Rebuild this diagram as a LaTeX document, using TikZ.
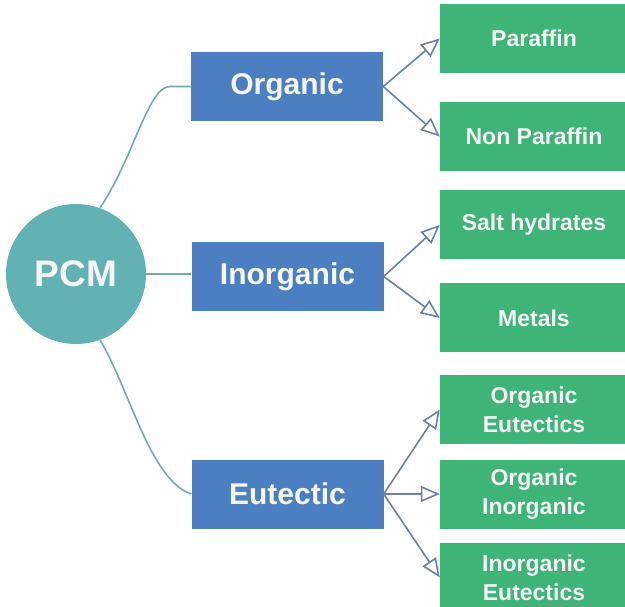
\documentclass[tikz,border=0pt]{standalone}
\usepackage{fontspec}
\setmainfont{Liberation Sans}
\usetikzlibrary{arrows.meta}
\definecolor{teal1}{HTML}{62B1B3}
\definecolor{tealline}{HTML}{74AAAA}
\definecolor{blue1}{HTML}{4C7EC2}
\definecolor{green1}{HTML}{3FB478}
\definecolor{arrowc}{HTML}{6C80A2}
\definecolor{txt}{HTML}{F4F6F6}
\tikzset{
  catbox/.style={rectangle, fill=blue1, draw=none, minimum width=192pt, minimum height=69pt, inner sep=0pt,
    text=txt, font=\bfseries\fontsize{30}{34}\selectfont, align=center},
  leafbox/.style={rectangle, fill=green1, draw=none, minimum width=188pt, minimum height=69pt, inner sep=0pt,
    text=txt, font=\bfseries\fontsize{23}{29}\selectfont, align=center},
  rootnode/.style={circle, fill=teal1, draw=none, minimum size=140pt, inner sep=0pt,
    text=txt, font=\bfseries\fontsize{37}{40}\selectfont},
  link/.style={draw=tealline, line width=1.6pt},
  branch/.style={draw=arrowc, line width=1.6pt, -{Triangle[open, length=19pt, width=16pt, fill=white]}}
}
\begin{document}
\begin{tikzpicture}[x=1pt, y=-1pt]
\useasboundingbox (0,0) rectangle (625,607);
\clip (0,0) rectangle (625,607);
\fill[white] (0,0) rectangle (625,607);
% root
\node[rootnode] (pcm) at (76,274) {PCM};
% categories
\node[catbox] (org) at (287,86.5) {Organic};
\node[catbox] (inorg) at (287.5,276.5) {Inorganic};
\node[catbox] (eut) at (287.5,494) {Eutectic};
% leaves
\node[leafbox] (par) at (534,38.5) {Paraffin};
\node[leafbox] (npar) at (534,136.5) {Non Paraffin};
\node[leafbox] (salt) at (534,225) {Salt hydrates};
\node[leafbox] (met) at (534,318) {Metals};
\node[leafbox] (oe) at (534,409.5) {Organic\\Eutectics};
\node[leafbox] (oi) at (534,494) {Organic\\Inorganic};
\node[leafbox] (ie) at (534,577.5) {Inorganic\\Eutectics};
% root connectors
\draw[link] (pcm.70) .. controls (135,155) and (148,86.5) .. (170,86.5) -- (org.west);
\draw[link] (pcm.east) -- (inorg.west |- pcm.east);
\draw[link] (pcm.-70) .. controls (130,390) and (150,480) .. (eut.west);
% branches
\draw[branch] (org.east) -- (par.west);
\draw[branch] (org.east) -- (npar.west);
\draw[branch] (inorg.east) -- (salt.west);
\draw[branch] (inorg.east) -- (met.west);
\draw[branch] (eut.east) -- (oe.west);
\draw[branch] (eut.east) -- (oi.west);
\draw[branch] (eut.east) -- (ie.west);
\end{tikzpicture}
\end{document}
